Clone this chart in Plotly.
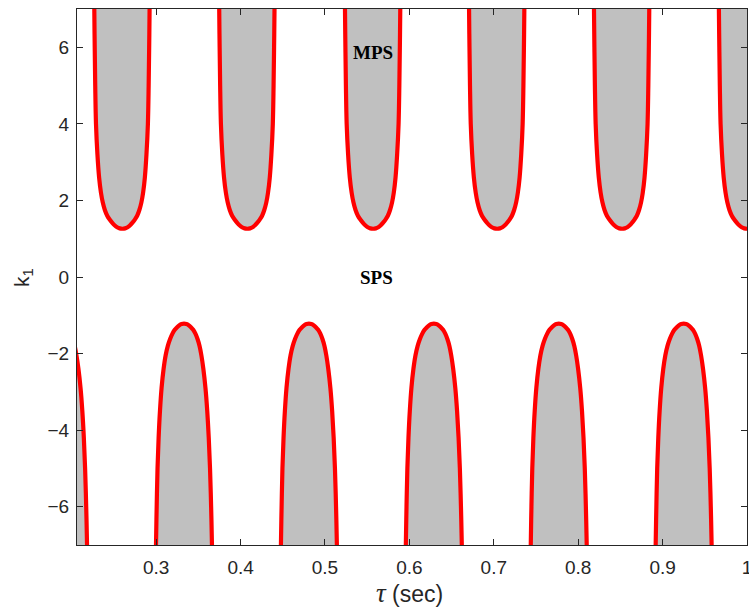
import plotly.graph_objects as go

# ---- data ----
# upper (MPS side) unstable lobes: centre tau of each lobe (minimum k1 about 1.26)
upper_centers = [0.260, 0.408, 0.557, 0.704, 0.852, 1.000]
# shape of one upper lobe: k1 levels and tau offsets of the left / right red branch
upper_k = [1.26, 1.27, 1.30, 1.35, 1.42, 1.50, 1.60, 1.75, 1.95, 2.20, 2.60, 3.20, 4.00, 5.00, 6.00, 7.00, 7.60]
upper_left = [0.0, -0.0032, -0.0063, -0.0093, -0.0122, -0.0151, -0.0180, -0.0208, -0.0233, -0.0254, -0.0276, -0.0296, -0.0313, -0.0322, -0.0328, -0.0333, -0.0335]
upper_right = [0.0, 0.0032, 0.0062, 0.0091, 0.0119, 0.0147, 0.0175, 0.0201, 0.0225, 0.0245, 0.0266, 0.0285, 0.0302, 0.0311, 0.0317, 0.0322, 0.0324]

# lower unstable lobes: centre tau of each lobe (maximum k1 about -1.22)
lower_centers = [0.185, 0.333, 0.481, 0.629, 0.777, 0.925]
lower_k = [-1.22, -1.23, -1.26, -1.31, -1.38, -1.48, -1.62, -1.80, -2.05, -2.40, -2.90, -3.50, -4.20, -5.00, -6.00, -7.00, -7.60]
lower_left = [0.0, -0.0028, -0.0055, -0.0082, -0.0110, -0.0137, -0.0165, -0.0192, -0.0218, -0.0242, -0.0266, -0.0285, -0.0301, -0.0314, -0.0324, -0.0332, -0.0336]
lower_right = [0.0, 0.0028, 0.0055, 0.0082, 0.0109, 0.0135, 0.0160, 0.0184, 0.0206, 0.0229, 0.0254, 0.0275, 0.0293, 0.0308, 0.0321, 0.0331, 0.0335]

x_ticks = [0.3, 0.4, 0.5, 0.6, 0.7, 0.8, 0.9, 1.0]
x_tick_labels = ["0.3", "0.4", "0.5", "0.6", "0.7", "0.8", "0.9", "1"]
y_ticks = [-6, -4, -2, 0, 2, 4, 6]
x_range = [0.2062, 1.0]
y_range = [-7, 7]

region_labels = ["MPS", "SPS"]
region_label_x = [0.5568, 0.5615]
region_label_y = [5.87, 0.0]

RED = "#FF0000"
GRAY = "#C0C0C0"
AX = "#262626"

fig = go.Figure()


def add_lobe(cx, ks, left, right):
    xs = [cx + d for d in reversed(left)] + [cx + d for d in right[1:]]
    ys = list(reversed(ks)) + list(ks[1:])
    fig.add_trace(go.Scatter(
        x=xs, y=ys, mode="lines", fill="toself", fillcolor=GRAY,
        line=dict(color=RED, width=4.2, shape="spline", smoothing=1.0),
        hoverinfo="skip", showlegend=False))


for c in upper_centers:
    add_lobe(c, upper_k, upper_left, upper_right)
for c in lower_centers:
    add_lobe(c, lower_k, lower_left, lower_right)

for txt, lx, ly in zip(region_labels, region_label_x, region_label_y):
    fig.add_annotation(x=lx, y=ly, xref="x", yref="y", text="<b>%s</b>" % txt,
                       showarrow=False, xanchor="center", yanchor="middle",
                       font=dict(family="Liberation Serif, Times New Roman, serif",
                                 size=19, color="#000000"))

W, H = 760, 613
L, R, T, B = 77, 8, 8, 68
pw = W - L - R
ph = H - T - B

fig.add_annotation(xref="paper", yref="paper",
                   x=(412 - L) / pw, y=(H - B - 593) / ph,
                   xanchor="center", yanchor="middle",
                   text="<span style=\"font-family:'Liberation Serif',serif;font-size:27px\"><i>τ</i></span> (sec)",
                   showarrow=False,
                   font=dict(family="Liberation Sans, Arial, sans-serif", size=23, color=AX))
fig.add_annotation(xref="paper", yref="paper",
                   x=(23 - L) / pw, y=(H - B - 277) / ph,
                   xanchor="center", yanchor="middle",
                   text="k<sub>1</sub>", showarrow=False, textangle=-90,
                   font=dict(family="Liberation Sans, Arial, sans-serif", size=21, color=AX))

fig.update_layout(
    width=W, height=H,
    margin=dict(l=L, r=R, t=T, b=B, pad=0),
    paper_bgcolor="white", plot_bgcolor="white",
    font=dict(family="Liberation Sans, Arial, sans-serif", size=19, color=AX),
)
fig.update_xaxes(range=x_range, tickvals=x_ticks, ticktext=x_tick_labels,
                 ticks="inside", ticklen=6, tickwidth=1, tickcolor=AX,
                 ticklabelstandoff=5,
                 showline=True, linecolor=AX, linewidth=1, mirror="ticks",
                 showgrid=False, zeroline=False, fixedrange=True)
fig.update_yaxes(range=y_range, tickvals=y_ticks,
                 ticks="inside", ticklen=6, tickwidth=1, tickcolor=AX,
                 ticklabelstandoff=3,
                 showline=True, linecolor=AX, linewidth=1, mirror="ticks",
                 showgrid=False, zeroline=False, fixedrange=True)

fig.write_html("out.html", include_plotlyjs=True, config={"displayModeBar": False},
               post_script="document.body.style.margin='0';document.body.style.overflow='hidden';"
                           "document.documentElement.style.overflow='hidden';")
